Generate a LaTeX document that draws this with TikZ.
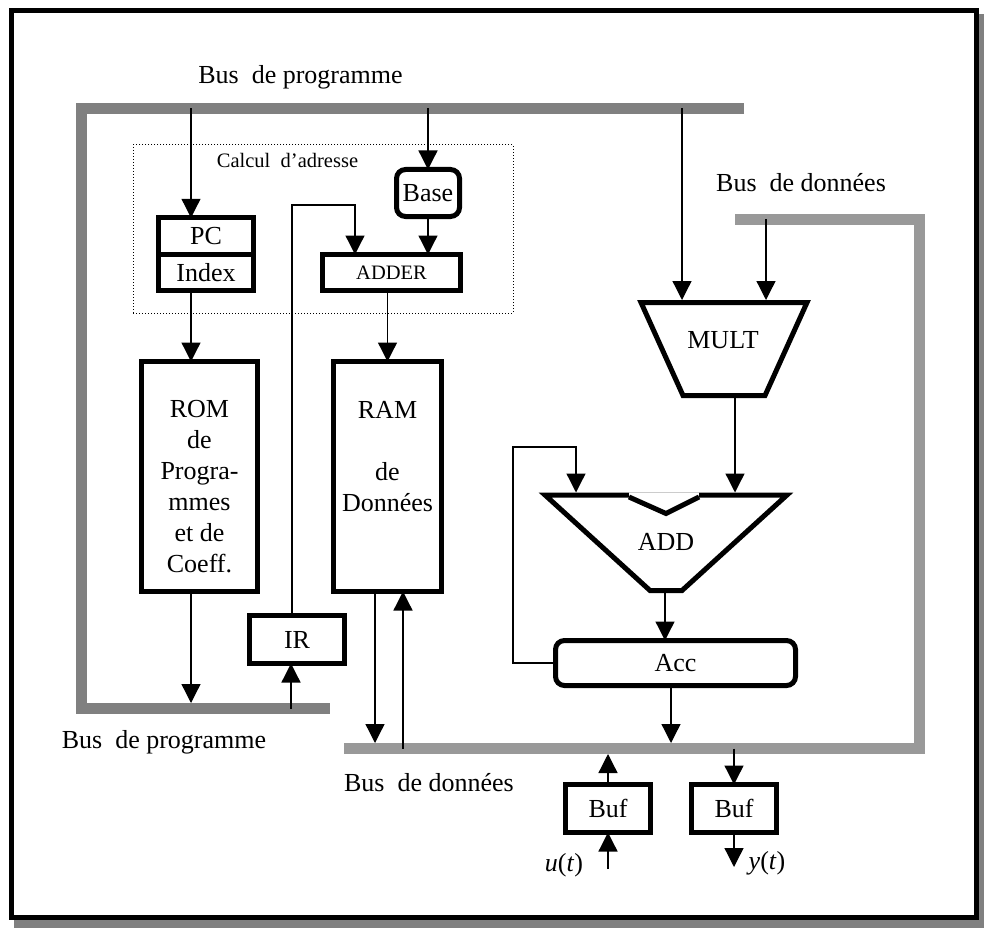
\documentclass[tikz,border=0pt]{standalone}
\usepackage{fontspec}
\setmainfont{Liberation Serif}
\usetikzlibrary{arrows.meta,positioning}

\begin{document}
\begin{tikzpicture}[x=1pt,y=-1pt,
    box/.style={draw,line width=5pt,inner sep=0pt,outer sep=0pt,font=\fontsize{26}{31}\selectfont},
    rbox/.style={box,rounded corners=9pt},
    lbl/.style={inner sep=0pt,font=\fontsize{26}{31}\selectfont},
    small/.style={inner sep=0pt,font=\fontsize{20.5}{24}\selectfont},
    wire/.style={line width=1.3pt},
    pbus/.style={line width=11pt,draw=black!50},
    dbus/.style={line width=11pt,draw=black!40},
    alu/.style={line width=5pt,line join=miter},
    >={Triangle[length=19pt,width=19pt]}
  ]
  \useasboundingbox (0,0) rectangle (984,928);

  % Frame with shadow
  \fill[black!50] (14,14) rectangle (984,928);
  \draw[line width=5pt,fill=white] (11,11) rectangle (976.5,917);

  % Buses
  \draw[pbus] (744,108.5) -- (81.5,108.5) -- (81.5,708.5) -- (330,708.5);
  \draw[dbus] (735,219) -- (919.5,219) -- (919.5,748.5) -- (344,748.5);
  \node[lbl] (pbustop) at (300.5,77) {Bus~~de programme};
  \node[lbl] (pbusbot) at (164,742) {Bus~~de programme};
  \node[lbl] (dbustop) at (801,183) {Bus~~de donn\'ees};
  \node[lbl] (dbusbot) at (429,783) {Bus~~de donn\'ees};

  % Taps on the buses
  \coordinate (pbPC) at (191,108.5);
  \coordinate (pbBase) at (428,108.5);
  \coordinate (pbMult) at (682,108.5);
  \coordinate (dbMult) at (766,219);
  \coordinate (pbROM) at (191,703);
  \coordinate (pbIR) at (291,708.5);
  \coordinate (dbRAMin) at (375,743);
  \coordinate (dbRAMout) at (403,748.5);
  \coordinate (dbAcc) at (671,743);
  \coordinate (dbBufin) at (608,754);
  \coordinate (dbBufout) at (734,748.5);

  % Address calculation
  \node[draw,dotted,line width=1pt,minimum width=380pt,minimum height=168pt,inner sep=0pt] (calc) at (323,229) {};
  \node[small] (calctxt) at (287.5,160) {Calcul~~d'adresse};
  \node[box,minimum width=95pt,minimum height=36.5pt] (pc) at (206,236) {PC};
  \node[box,minimum width=95pt,minimum height=36.5pt,below=0pt of pc] (idx) {Index};
  \node[rbox,minimum width=63pt,minimum height=47pt] (base) at (428,193) {Base};
  \node[box,minimum width=138pt,minimum height=36pt,font=\fontsize{20.5}{24}\selectfont] (adder) at (391.5,272.5) {ADDER};

  % Memories
  \node[box,minimum width=116pt,minimum height=230pt] (rom) at (199.5,476.5)
    {\raisebox{-19pt}[0pt][0pt]{\begin{tabular}{@{}c@{}}ROM\\de\\Progra-\\mmes\\et de\\Coeff.\end{tabular}}};
  \node[box,minimum width=108pt,minimum height=230pt] (ram) at (387.5,476.5)
    {\raisebox{11.5pt}[0pt][0pt]{\begin{tabular}{@{}c@{}}RAM\\ \\de\\Donn\'ees\end{tabular}}};
  \node[box,minimum width=95pt,minimum height=48pt] (ir) at (297,639.5) {IR};

  % MULT and ADD
  \draw[alu,fill=white] (641,302.5) -- (807,302.5) -- (765,395.5) -- (683,395.5) -- cycle;
  \node[lbl] (mult) at (723,340) {MULT};
  \coordinate (multL) at (682,300);
  \coordinate (multR) at (766,300);
  \coordinate (multout) at (735,398);

  \draw[alu] (545,495) -- (787,495) -- (682,590.5) -- (650,590.5) -- cycle;
  \draw[white,line width=6pt] (629,495) -- (699,495);
  \draw[black!20,line width=1pt] (629,492.5) -- (699,492.5);
  \draw[alu] (629,497) -- (666,513.5) -- (699,497);
  \node[lbl] (add) at (666,542) {ADD};
  \coordinate (addL) at (576,492.5);
  \coordinate (addR) at (735,492.5);
  \coordinate (addout) at (665,593);

  \node[rbox,minimum width=240pt,minimum height=45pt] (acc) at (675.5,663) {Acc};

  % I/O buffers
  \node[box,minimum width=85pt,minimum height=48pt] (bufin) at (608,808.5) {Buf};
  \node[box,minimum width=85pt,minimum height=48pt] (bufout) at (734,808.5) {Buf};
  \coordinate (uin) at (608,869);
  \coordinate (yout) at (734,867);
  \node[lbl] (ulbl) at (564,865) {\textit{u}(\textit{t})};
  \node[lbl] (ylbl) at (767,863) {\textit{y}(\textit{t})};

  % Connections
  \draw[wire,->] (pbPC) -- (pbPC |- pc.north);
  \draw[wire,->] (pbBase) -- (base);
  \draw[wire,->] (pbMult) -- (multL);
  \draw[wire,->] (dbMult) -- (multR);
  \draw[wire,->] (pbPC |- idx.south) -- (pbPC |- rom.north);
  \draw[wire,->] (base) -- (base |- adder.north);
  \coordinate (irbend) at (292,205);
  \draw[wire,->] (irbend |- ir.north) -- (irbend) -| ([xshift=-36.5pt]adder.north);
  \draw[wire,->] (adder.south -| ram.north) -- (ram.north);
  \draw[wire,->] (pbPC |- rom.south) -- (pbROM);
  \draw[wire,->] (pbIR) -- (pbIR |- ir.south);
  \draw[wire,->] (dbRAMin |- ram.south) -- (dbRAMin);
  \draw[wire,->] (dbRAMout) -- (dbRAMout |- ram.south);
  \draw[wire,->] (multout) -- (addR);
  \coordinate (fbtop) at (513,447);
  \draw[wire,->] (acc.west) -| (fbtop) -| (addL);
  \draw[wire,->] (addout) -- (addout |- acc.north);
  \draw[wire,->] (dbAcc |- acc.south) -- (dbAcc);
  \draw[wire,->] (bufin) -- (dbBufin);
  \draw[wire,->] (uin) -- (bufin);
  \draw[wire,->] (dbBufout) -- (bufout);
  \draw[wire,->] (bufout) -- (yout);
\end{tikzpicture}
\end{document}
